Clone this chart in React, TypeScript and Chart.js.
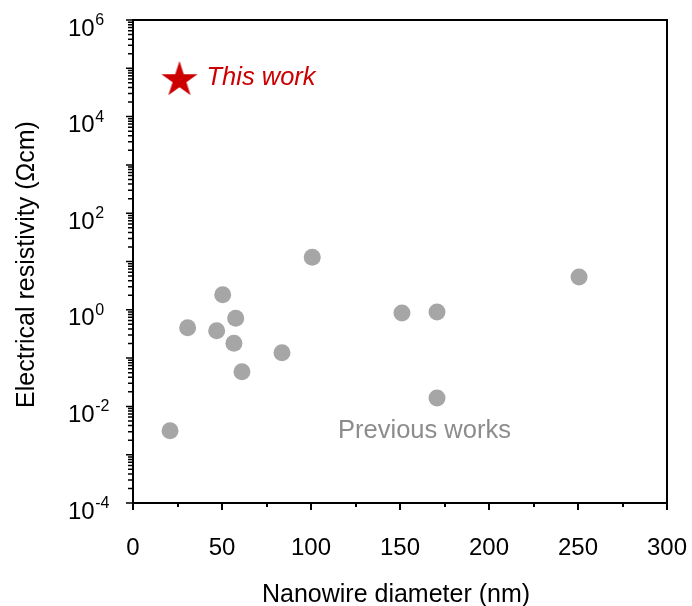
import React, { useEffect, useRef } from "react";
import { Chart, registerables } from "chart.js";

Chart.register(...registerables);

// ---- data ----
const prevDiameters = [20.8, 30.7, 47.0, 50.4, 57.7, 56.7, 61.2, 83.7, 100.7, 151.1, 170.8, 170.8, 250.6];
const prevResistivity = [0.00314, 0.427, 0.369, 2.06, 0.667, 0.202, 0.052, 0.129, 12.2, 0.86, 0.9, 0.0149, 4.78];
const thisDiameter = [26.1];
const thisResistivity = [57300];

const xMajorTicks = [0, 50, 100, 150, 200, 250, 300];
const xMinorTicks = [25, 75, 125, 175, 225, 275];
const yLabelExponents = [-4, -2, 0, 2, 4, 6];
const yDecadeExponents = [-4, -3, -2, -1, 0, 1, 2, 3, 4, 5, 6];

const xTitle = "Nanowire diameter (nm)";
const yTitle = "Electrical resistivity (Ωcm)";
const thisLabel = "This work";
const prevLabel = "Previous works";

const FONT = '"Liberation Sans", Arial, sans-serif';
const GRAY = "#A6A6A6";
const RED = "#CC0000";

function makeStar(R: number, color: string): HTMLCanvasElement {
  const c = document.createElement("canvas");
  const size = Math.ceil(2 * R + 2);
  c.width = size;
  c.height = size;
  const ctx = c.getContext("2d")!;
  const cx = size / 2;
  const cy = size / 2;
  const r = R * 0.382;
  ctx.beginPath();
  for (let i = 0; i < 10; i++) {
    const rad = i % 2 === 0 ? R : r;
    const a = -Math.PI / 2 + (i * Math.PI) / 5;
    const px = cx + rad * Math.cos(a);
    const py = cy + rad * Math.sin(a);
    if (i === 0) ctx.moveTo(px, py);
    else ctx.lineTo(px, py);
  }
  ctx.closePath();
  ctx.fillStyle = color;
  ctx.fill();
  return c;
}

const axesPlugin = {
  id: "customAxes",
  afterDatasetsDraw(chart: any) {
    const ctx: CanvasRenderingContext2D = chart.ctx;
    const { left, right, top, bottom } = chart.chartArea;
    const xs = chart.scales.x;
    const ys = chart.scales.y;
    ctx.save();

    // frame
    ctx.strokeStyle = "#000";
    ctx.lineWidth = 2;
    ctx.strokeRect(left, top, right - left, bottom - top);

    // x ticks
    ctx.lineWidth = 2;
    ctx.beginPath();
    xMajorTicks.forEach((v) => {
      const px = Math.round(xs.getPixelForValue(v));
      ctx.moveTo(px, bottom);
      ctx.lineTo(px, bottom + 7);
    });
    xMinorTicks.forEach((v) => {
      const px = Math.round(xs.getPixelForValue(v));
      ctx.moveTo(px, bottom);
      ctx.lineTo(px, bottom + 4);
    });
    ctx.stroke();

    // y ticks
    ctx.lineWidth = 1.5;
    ctx.beginPath();
    yDecadeExponents.forEach((e) => {
      const py = ys.getPixelForValue(Math.pow(10, e));
      ctx.moveTo(left, py);
      ctx.lineTo(left - 7, py);
      if (e < 6) {
        for (let m = 2; m <= 9; m++) {
          const pm = ys.getPixelForValue(m * Math.pow(10, e));
          ctx.moveTo(left, pm);
          ctx.lineTo(left - 5, pm);
        }
      }
    });
    ctx.stroke();

    // x tick labels
    ctx.fillStyle = "#000";
    ctx.font = `24px ${FONT}`;
    ctx.textAlign = "center";
    ctx.textBaseline = "alphabetic";
    xMajorTicks.forEach((v) => {
      ctx.fillText(String(v), xs.getPixelForValue(v), bottom + 52);
    });

    // y tick labels with superscript
    yLabelExponents.forEach((e) => {
      const py = ys.getPixelForValue(Math.pow(10, e));
      const exp = String(e);
      ctx.textAlign = "left";
      ctx.font = `24px ${FONT}`;
      const wb = ctx.measureText("10").width;
      const lx = left - 65;
      ctx.fillText("10", lx, py + 15.5);
      ctx.font = `16px ${FONT}`;
      ctx.fillText(exp, lx + wb + 0.5, py + 5);
    });

    // axis titles
    ctx.font = `25px ${FONT}`;
    ctx.textAlign = "center";
    ctx.fillText(xTitle, (left + right) / 2 - 4, bottom + 99);
    ctx.save();
    ctx.translate(34, (top + bottom) / 2 + 3);
    ctx.rotate(-Math.PI / 2);
    ctx.fillText(yTitle, 0, 0);
    ctx.restore();

    // annotations
    const sx = xs.getPixelForValue(thisDiameter[0]);
    const sy = ys.getPixelForValue(thisResistivity[0]);
    ctx.textAlign = "left";
    ctx.fillStyle = RED;
    ctx.font = `italic 25.5px ${FONT}`;
    ctx.fillText(thisLabel, sx + 27, sy + 5);

    ctx.fillStyle = "#8C8C8C";
    ctx.font = `25.5px ${FONT}`;
    ctx.fillText(prevLabel, xs.getPixelForValue(115.2), ys.getPixelForValue(0.00222));

    ctx.restore();
  },
};

export default function App() {
  const ref = useRef<HTMLCanvasElement>(null);
  useEffect(() => {
    document.body.style.margin = "0";
    const canvas = ref.current!;
    const star = makeStar(19, RED);
    const chart = new Chart(canvas, {
      type: "scatter",
      data: {
        datasets: [
          {
            label: prevLabel,
            data: prevDiameters.map((x, i) => ({ x, y: prevResistivity[i] })),
            pointRadius: 8.5,
            pointBackgroundColor: GRAY,
            pointBorderColor: GRAY,
            pointBorderWidth: 0,
          },
          {
            label: thisLabel,
            data: thisDiameter.map((x, i) => ({ x, y: thisResistivity[i] })),
            pointStyle: star as any,
            pointRadius: 19,
          },
        ],
      },
      options: {
        responsive: false,
        animation: false,
        layout: { padding: { top: 20, right: 25, left: 0, bottom: 0 } },
        plugins: { legend: { display: false }, tooltip: { enabled: false } },
        scales: {
          x: {
            type: "linear",
            min: 0,
            max: 300,
            ticks: { display: false },
            grid: { display: false },
            border: { display: false },
            afterFit: (s: any) => {
              s.height = 103;
            },
          },
          y: {
            type: "logarithmic",
            min: 1e-4,
            max: 1e6,
            ticks: { display: false },
            grid: { display: false },
            border: { display: false },
            afterFit: (s: any) => {
              s.width = 133;
            },
          },
        },
      } as any,
      plugins: [axesPlugin],
    });
    return () => chart.destroy();
  }, []);
  return (
    <canvas
      ref={ref}
      width={692}
      height={606}
      style={{ position: "fixed", left: 0, top: 0, width: 692, height: 606 }}
    />
  );
}
